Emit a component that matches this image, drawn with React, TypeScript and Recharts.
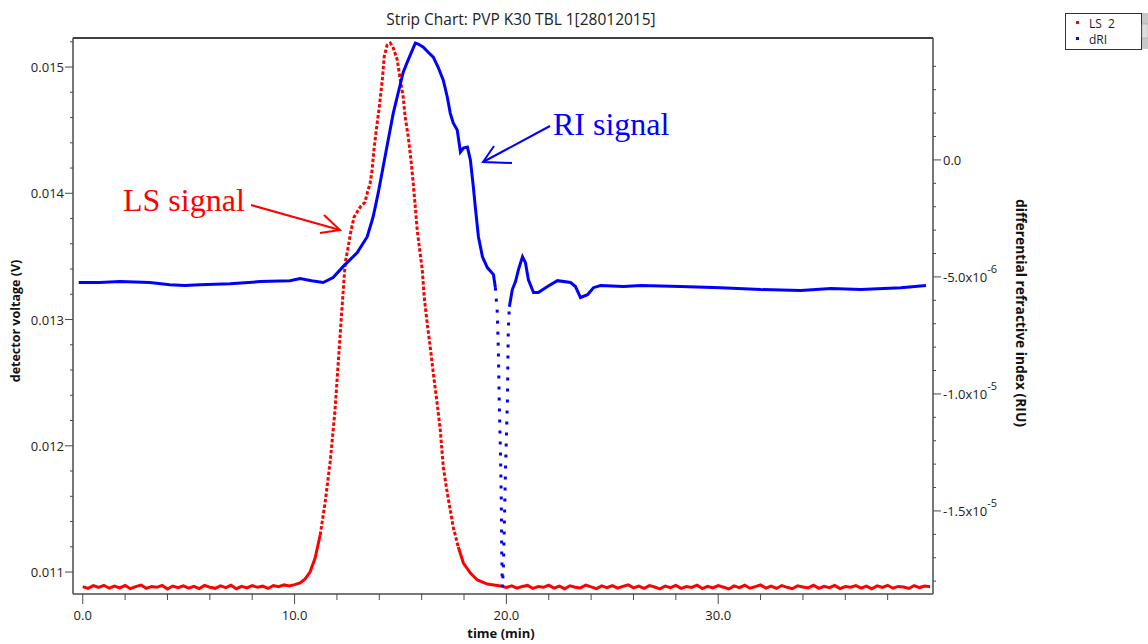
import { LineChart, Line, XAxis, YAxis, ReferenceLine } from 'recharts'

// LS 2 detector voltage (V) — baseline before the peak, sampled every 0.25 min from 0.0
const lsBaseStart = [
    0.010885, 0.010870, 0.010892, 0.010878, 0.010895, 0.010872, 0.010888, 0.010875, 0.010893, 0.010868,
    0.010884, 0.010897, 0.010871, 0.010886, 0.010879, 0.010894, 0.010866, 0.010889, 0.010876, 0.010891,
    0.010873, 0.010887, 0.010869, 0.010894, 0.010880, 0.010871, 0.010890, 0.010877, 0.010895, 0.010868,
    0.010886, 0.010874, 0.010892, 0.010879, 0.010888, 0.010870, 0.010893, 0.010884, 0.010898, 0.010890,
]

// the LS peak: [time (min), voltage (V)]
const lsPeak: [number, number][] = [
    [10.0, 0.0109], [10.26, 0.010913], [10.5, 0.010945], [10.73, 0.011], [10.97, 0.011111],
    [11.21, 0.011293], [11.44, 0.011547], [11.68, 0.011871], [11.91, 0.012283], [12.2, 0.012996],
    [12.39, 0.013448], [12.53, 0.013574], [12.67, 0.013709], [12.81, 0.013812], [13.1, 0.013891],
    [13.33, 0.013931], [13.43, 0.014002], [13.57, 0.014081], [13.66, 0.014184], [13.76, 0.014366],
    [13.9, 0.014557], [14.0, 0.014683], [14.14, 0.014897], [14.23, 0.015079], [14.37, 0.015174],
    [14.52, 0.01519], [14.66, 0.015151], [14.85, 0.015056], [14.99, 0.014897], [15.13, 0.014762],
    [15.22, 0.014604], [15.37, 0.014446], [15.51, 0.01424], [15.6, 0.014081], [15.7, 0.013891],
    [15.79, 0.013709], [15.89, 0.013574], [16.03, 0.013392], [16.12, 0.013178], [16.26, 0.012972],
    [16.41, 0.012774], [16.55, 0.012576], [16.74, 0.012323], [16.88, 0.012125], [17.02, 0.011832],
    [17.21, 0.011626], [17.35, 0.011491], [17.49, 0.011356], [17.73, 0.011198], [17.97, 0.011071],
    [18.3, 0.010992], [18.63, 0.010937], [19.1, 0.010905], [19.72, 0.010889],
]

// baseline after the peak, every 0.25 min from 20.0 to 40.0
const lsBaseEnd = [
    0.010878, 0.010890, 0.010872, 0.010886, 0.010894, 0.010870, 0.010885, 0.010879, 0.010896, 0.010873,
    0.010888, 0.010868, 0.010891, 0.010880, 0.010874, 0.010897, 0.010883, 0.010869, 0.010890, 0.010877,
    0.010893, 0.010872, 0.010886, 0.010899, 0.010875, 0.010888, 0.010870, 0.010892, 0.010881, 0.010867,
    0.010889, 0.010876, 0.010894, 0.010871, 0.010885, 0.010878, 0.010896, 0.010869, 0.010887, 0.010874,
    0.010892, 0.010880, 0.010866, 0.010890, 0.010877, 0.010895, 0.010872, 0.010884, 0.010898, 0.010873,
    0.010889, 0.010870, 0.010893, 0.010879, 0.010868, 0.010891, 0.010882, 0.010874, 0.010896, 0.010871,
    0.010887, 0.010876, 0.010894, 0.010869, 0.010885, 0.010880, 0.010892, 0.010873, 0.010888, 0.010867,
    0.010890, 0.010878, 0.010895, 0.010872, 0.010886, 0.010881, 0.010870, 0.010893, 0.010877, 0.010889,
    0.010883,
]

// dRI differential refractive index (RIU): [time (min), value]
const dri: [number, number][] = [
    [-0.19, -5.24e-6], [0.8, -5.24e-6], [1.75, -5.2e-6], [3.17, -5.24e-6], [4.11, -5.33e-6],
    [4.82, -5.37e-6], [5.53, -5.33e-6], [6.95, -5.29e-6], [8.37, -5.2e-6], [9.79, -5.16e-6],
    [10.26, -5.07e-6], [10.8, -5.16e-6], [11.35, -5.24e-6], [11.82, -5.03e-6], [12.29, -4.56e-6],
    [12.96, -3.96e-6], [13.43, -3.28e-6], [13.71, -2.43e-6], [13.95, -1.41e-6], [14.18, -0.3e-6],
    [14.42, 0.85e-6], [14.66, 2.0e-6], [14.89, 2.86e-6], [15.13, 3.75e-6], [15.32, 4.18e-6],
    [15.56, 4.69e-6], [15.7, 4.99e-6], [15.84, 4.95e-6], [16.08, 4.82e-6], [16.31, 4.6e-6],
    [16.55, 4.39e-6], [16.78, 3.96e-6], [17.02, 3.41e-6], [17.21, 2.69e-6], [17.35, 2.0e-6],
    [17.49, 1.58e-6], [17.68, 1.28e-6], [17.83, 0.34e-6], [17.97, 0.51e-6], [18.16, 0.55e-6],
    [18.3, 0.0], [18.44, -1.15e-6], [18.53, -2.0e-6], [18.68, -3.28e-6], [18.87, -4.14e-6],
    [19.1, -4.6e-6], [19.39, -4.9e-6], [19.48, -5.46e-6], [19.57, -6.52e-6], [19.62, -8.1e-6],
    [19.67, -10.66e-6], [19.72, -12.49e-6], [19.76, -14.62e-6], [19.78, -16.75e-6], [19.81, -18.25e-6],
    [19.86, -17.35e-6], [19.91, -15.35e-6], [19.95, -13.51e-6], [20.0, -11.81e-6], [20.05, -10.23e-6],
    [20.07, -8.65e-6], [20.09, -7.25e-6], [20.14, -6.27e-6], [20.28, -5.54e-6], [20.43, -5.2e-6],
    [20.57, -4.69e-6], [20.76, -4.14e-6], [20.9, -4.39e-6], [21.04, -5.12e-6], [21.28, -5.67e-6],
    [21.51, -5.67e-6], [21.94, -5.41e-6], [22.41, -5.16e-6], [23.03, -5.24e-6], [23.26, -5.41e-6],
    [23.5, -5.88e-6], [23.83, -5.76e-6], [24.11, -5.46e-6], [24.44, -5.37e-6], [25.53, -5.41e-6],
    [26.34, -5.37e-6], [28.23, -5.41e-6], [30.12, -5.46e-6], [32.01, -5.54e-6], [33.9, -5.58e-6],
    [35.32, -5.5e-6], [36.74, -5.54e-6], [38.63, -5.46e-6], [39.81, -5.37e-6],
]

const timeTicks = [0, 2, 4, 6, 8, 10, 12, 14, 16, 18, 20, 22, 24, 26, 28, 30, 32, 34, 36, 38]
const timeLabels: Record<number, string> = { 0: '0.0', 10: '10.0', 20: '20.0', 30: '30.0' }

const voltTicks = [
    0.011, 0.0112, 0.0114, 0.0116, 0.0118, 0.012, 0.0122, 0.0124, 0.0126, 0.0128, 0.013,
    0.0132, 0.0134, 0.0136, 0.0138, 0.014, 0.0142, 0.0144, 0.0146, 0.0148, 0.015, 0.0152,
]
const voltLabels = ['0.011', '0.012', '0.013', '0.014', '0.015']

const riuTicks = [
    -18e-6, -17e-6, -16e-6, -15e-6, -14e-6, -13e-6, -12e-6, -11e-6, -10e-6, -9e-6, -8e-6, -7e-6,
    -6e-6, -5e-6, -4e-6, -3e-6, -2e-6, -1e-6, 0, 1e-6, 2e-6, 3e-6, 4e-6,
]
// mantissa, exponent
const riuLabels: Record<string, [string, string]> = {
    '0': ['0.0', ''],
    '-5': ['-5.0x10', '-6'],
    '-10': ['-1.0x10', '-5'],
    '-15': ['-1.5x10', '-5'],
}

const lsData = [
    ...lsBaseStart.map((v, i) => ({ t: i * 0.25, v })),
    ...lsPeak.map(([t, v]) => ({ t, v })),
    ...lsBaseEnd.map((v, i) => ({ t: 20 + i * 0.25, v })),
]
const driData = dri.map(([t, r]) => ({ t, r }))

// the sparse (fast-changing) stretches are drawn dotted, like the sampled points in the original
const lsBefore = lsData.filter((d) => d.t <= 11.21)
const lsSteep = lsData.filter((d) => d.t >= 11.21 && d.t <= 17.73)
const lsAfter = lsData.filter((d) => d.t >= 17.73)
const driBefore = driData.filter((d) => d.t <= 19.48)
const driDip = driData.filter((d) => d.t >= 19.48 && d.t <= 20.14)
const driAfter = driData.filter((d) => d.t >= 20.14)

const FONT = '"Open Sans", "Noto Sans", sans-serif'
const AXIS = '#4a4a4a'
const RED = '#ff0000'
const BLUE = '#0000ff'

function TimeTick({ x, y, payload }: any) {
    const label = timeLabels[payload.value]
    return (
        <g>
            <line x1={x} x2={x} y1={y} y2={y + (label ? 10 : 6)} stroke={AXIS} />
            {label && (
                <text x={x} y={y + 26} textAnchor="middle" fontSize={13} fill="#222" fontFamily={FONT}>
                    {label}
                </text>
            )}
        </g>
    )
}

function VoltTick({ x, y, payload }: any) {
    const label = voltLabels.find((l) => Math.abs(parseFloat(l) - payload.value) < 1e-7)
    return (
        <g>
            <line x1={x - (label ? 8 : 3)} x2={x} y1={y} y2={y} stroke={AXIS} />
            {label && (
                <text x={x - 9} y={y + 5} textAnchor="end" fontSize={13} fill="#222" fontFamily={FONT}>
                    {label}
                </text>
            )}
        </g>
    )
}

function RiuTick({ x, y, payload }: any) {
    const key = String(Math.round(payload.value * 1e6))
    const label = riuLabels[key]
    return (
        <g>
            <line x1={x} x2={x + (label ? 8 : 3)} y1={y} y2={y} stroke={AXIS} />
            {label && (
                <text x={x + 10} y={y + 5} fontSize={13} fill="#222" fontFamily={FONT}>
                    {label[0]}
                    {label[1] && (
                        <tspan dy={-9} fontSize={11}>
                            {label[1]}
                        </tspan>
                    )}
                </text>
            )}
        </g>
    )
}

const seg = (data: any[], axis: string, key: string, color: string, dash?: string) => (
    <Line
        key={`${key}-${data[0].t}`}
        yAxisId={axis}
        data={data}
        dataKey={key}
        type="linear"
        stroke={color}
        strokeWidth={3}
        strokeDasharray={dash}
        dot={false}
        isAnimationActive={false}
    />
)

export default function App() {
    return (
        <div style={{ position: 'absolute', left: 0, top: 0, width: 1148, height: 644, background: '#fff' }}>
            <LineChart width={1148} height={644} margin={{ top: 38, right: 125, bottom: 20, left: 13 }}>
                <XAxis
                    type="number"
                    dataKey="t"
                    domain={[-0.46, 40.14]}
                    allowDataOverflow
                    ticks={timeTicks}
                    interval={0}
                    tickSize={0}
                    tickMargin={0}
                    tickLine={false}
                    tick={<TimeTick />}
                    height={30}
                    stroke={AXIS}
                    strokeWidth={1.5}
                />
                <YAxis
                    yAxisId="ls"
                    orientation="left"
                    type="number"
                    domain={[0.010826, 0.01523]}
                    allowDataOverflow
                    ticks={voltTicks}
                    interval={0}
                    tickSize={0}
                    tickMargin={0}
                    tickLine={false}
                    tick={<VoltTick />}
                    width={60}
                    stroke={AXIS}
                    strokeWidth={1.5}
                />
                <YAxis
                    yAxisId="ri"
                    orientation="right"
                    type="number"
                    domain={[-18.55e-6, 5.21e-6]}
                    allowDataOverflow
                    ticks={riuTicks}
                    interval={0}
                    tickSize={0}
                    tickMargin={0}
                    tickLine={false}
                    tick={<RiuTick />}
                    width={90}
                    stroke={AXIS}
                    strokeWidth={1.5}
                />
                <ReferenceLine yAxisId="ls" y={0.01523} stroke="#000" strokeWidth={1.5} />
                {seg(lsBefore, 'ls', 'v', RED)}
                {seg(lsSteep, 'ls', 'v', RED, '3.5 2')}
                {seg(lsAfter, 'ls', 'v', RED)}
                {seg(driBefore, 'ri', 'r', BLUE)}
                {seg(driDip, 'ri', 'r', BLUE, '3 8')}
                {seg(driAfter, 'ri', 'r', BLUE)}
            </LineChart>

            <svg
                width={1148}
                height={644}
                style={{ position: 'absolute', left: 0, top: 0, pointerEvents: 'none' }}
                fontFamily={FONT}
            >
                <text x={521} y={25} textAnchor="middle" fontSize={15.5} fill="#222">
                    Strip Chart: PVP K30 TBL 1[28012015]
                </text>
                <text x={501} y={638} textAnchor="middle" fontSize={13} fontWeight="bold" fill="#111">
                    time (min)
                </text>
                <text
                    transform="translate(20,321) rotate(-90)"
                    textAnchor="middle"
                    fontSize={12.5}
                    fontWeight="bold"
                    fill="#111"
                >
                    detector voltage (V)
                </text>
                <text
                    transform="translate(1016,313) rotate(90)"
                    textAnchor="middle"
                    fontSize={13.8}
                    fontWeight="bold"
                    fill="#111"
                >
                    differential refractive index (RIU)
                </text>

                {/* legend */}
                <rect x={1065.5} y={13.5} width={76} height={36} fill="#fff" stroke="#333" />
                <rect x={1076} y={21} width={3} height={3} fill={RED} />
                <text x={1089} y={28} fontSize={12} fill="#222">{'LS\u00a0\u00a02'}</text>
                <rect x={1076} y={37} width={3} height={3} fill={BLUE} />
                <text x={1089} y={44} fontSize={12} fill="#222">dRI</text>
                <rect x={1142} y={13} width={6} height={36} fill="#c8c8c8" />
                <rect x={1142} y={24} width={6} height={14} fill="#dedede" stroke="#999" strokeWidth={0.5} />

                {/* annotations */}
                <text x={123} y={211} fontSize={32} fill={RED} fontFamily='"Liberation Serif", serif'>
                    LS signal
                </text>
                <g stroke={RED} strokeWidth={2} fill="none">
                    <line x1={251} y1={205} x2={340} y2={230} />
                    <polyline points="324,215 340,230 320,233" />
                </g>
                <text x={553} y={135} fontSize={32} fill={BLUE} fontFamily='"Liberation Serif", serif'>
                    RI signal
                </text>
                <g stroke={BLUE} strokeWidth={2} fill="none">
                    <line x1={550} y1={126} x2={483} y2={162} />
                    <polyline points="494,146 483,162 512,163" />
                </g>
            </svg>
        </div>
    )
}
